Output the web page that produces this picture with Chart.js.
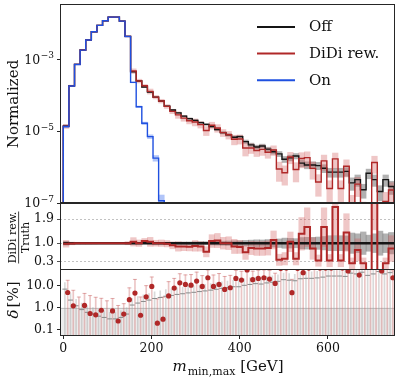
<!DOCTYPE html>
<html>
<head>
<meta charset="utf-8">
<script src="https://cdn.jsdelivr.net/npm/chart.js@4.4.1/dist/chart.umd.min.js"></script>
<style>
  html, body { margin: 0; padding: 0; background: #fff; }
  #wrap { position: relative; width: 407px; height: 382px; overflow: hidden; }
  canvas { position: absolute; left: 0; }
</style>
</head>
<body>
<div id="wrap">
  <canvas id="mainChart" width="407" height="216" style="top:0px"></canvas>
  <canvas id="ratioChart" width="407" height="67" style="top:203px"></canvas>
  <canvas id="deltaChart" width="407" height="113" style="top:269px"></canvas>
</div>
<script>
// binning of m_min,max [GeV]
const N_BINS = 59;
const RANGE_HI = 750;
const X_MIN = -7.5, X_MAX = 752;
const binEdges = Array.from({ length: N_BINS + 1 }, (_, i) => i * RANGE_HI / N_BINS);
const binCenters = binEdges.slice(0, -1).map((e, i) => (e + binEdges[i + 1]) / 2);

const xTicks = [0, 200, 400, 600];
const mainTicks = [1e-7, 1e-5, 1e-3];
const ratioTicks = [0.3, 1.0, 1.9];
const deltaTicks = [0.1, 1.0, 10.0];
const seriesLabels = ['Off', 'DiDi rew.', 'On'];

// normalized distributions
const onValues = [1.35e-5, 1.82e-4, 7.24e-4, 1.82e-3, 3.47e-3, 5.89e-3, 8.91e-3, 1.2e-2, 1.51e-2,
  1.51e-2, 1.17e-2, 4.37e-3, 2.29e-4, 4.79e-5, 1.66e-5, 7.08e-6, 1.78e-6, 1.15e-7];
const onErrPct = [6, 1.8, 0.9, 0.6, 0.4, 0.35, 0.3, 0.25, 0.25, 0.25, 0.3, 0.5, 2.5, 5, 8, 12, 18, 45];

const offValues = [1.4e-5, 1.85e-4, 7.3e-4, 1.83e-3, 3.47e-3, 5.9e-3, 8.9e-3, 1.2e-2, 1.5e-2, 1.5e-2,
  1.17e-2, 4.4e-3, 4.52e-4, 2.51e-4, 1.7e-4, 1.23e-4, 8.91e-5, 6.92e-5, 5.01e-5, 3.89e-5,
  3.24e-5, 2.63e-5, 2.24e-5, 2.0e-5, 1.74e-5, 1.55e-5, 1.35e-5, 1.12e-5, 9.12e-6, 7.94e-6,
  6.76e-6, 7.08e-6, 5.13e-6, 4.17e-6, 3.63e-6, 3.89e-6, 3.16e-6, 2.69e-6, 2.34e-6, 1.66e-6,
  1.82e-6, 2.04e-6, 1.29e-6, 1.15e-6, 1.15e-6, 1.1e-6, 9.33e-7, 7.24e-7, 7.24e-7, 7.24e-7,
  7.59e-7, 3.63e-7, 4.47e-7, 2.34e-7, 6.76e-7, 4.47e-7, 2.09e-7, 4.47e-7, 2.88e-7];
const offErrPct = [7, 2.2, 1.2, 0.8, 0.6, 0.5, 0.4, 0.35, 0.3, 0.3,
  0.35, 0.5, 1.3, 1.6, 1.9, 2.2, 2.6, 2.9, 3.3, 3.6,
  4, 4.3, 4.7, 5, 5.4, 5.8, 6.3, 6.9, 7.6, 8.2,
  9, 9, 10.5, 11.5, 12.5, 12, 13.5, 14.5, 16, 19,
  18, 17, 21, 22, 22, 23, 25, 28, 28, 28,
  27, 38, 35, 42, 30, 35, 45, 35, 40];

const didiValues = [1.37e-5, 1.83e-4, 7.3e-4, 1.83e-3, 3.47e-3, 5.9e-3, 8.9e-3, 1.2e-2, 1.5e-2, 1.5e-2,
  1.17e-2, 4.4e-3, 4.75e-4, 2.51e-4, 1.84e-4, 1.29e-4, 8.91e-5, 6.92e-5, 4.91e-5, 3.58e-5,
  2.85e-5, 2.31e-5, 1.95e-5, 1.8e-5, 1.53e-5, 1.05e-5, 1.46e-5, 1.23e-5, 9.12e-6, 7.94e-6,
  5.95e-6, 6.09e-6, 3.39e-6, 3.42e-6, 2.9e-6, 3.11e-6, 2.59e-6, 3.01e-6, 8.89e-7, 6.97e-7,
  1.91e-6, 8.57e-7, 1.74e-6, 1.84e-6, 9.2e-7, 3.85e-7, 1.49e-6, 2.53e-7, 1.7e-6, 2.53e-7,
  1.06e-6, 9.1e-8, 3.35e-7, 5.9e-8, 0, 1.34e-6, 0, 1.1e-7, 2.3e-7];
const didiErrPct = [13, 5, 3.5, 3.2, 3, 2.5, 1.9, 1.9, 1.9, 1.0,
  1.0, 5.7, 15, 12, 9, 16, 11, 12, 12, 14,
  20, 18, 18, 22, 20, 28, 22, 24, 22, 24,
  30, 28, 40, 30, 32, 32, 32, 30, 55, 55,
  35, 55, 45, 45, 50, 60, 45, 65, 45, 65,
  50, 80, 55, 80, 100, 50, 100, 80, 60];

// DiDi rew. / Truth
const ratioValues = [0.98, 0.99, 1, 1, 1, 1, 1, 1, 1, 1,
  1, 1, 1.05, 1.0, 1.08, 1.05, 1.0, 1.0, 0.98, 0.92,
  0.88, 0.88, 0.87, 0.9, 0.88, 0.68, 1.08, 1.1, 1.0, 1.0,
  0.88, 0.86, 0.66, 0.82, 0.8, 0.8, 0.82, 1.12, 0.38, 0.42,
  1.05, 0.42, 1.35, 1.6, 0.8, 0.35, 1.6, 0.35, 2.35, 0.35,
  1.4, 0.25, 0.75, 0.25, 0, 3.0, 0, 0.25, 0.8];

// delta [%]
const deltaValues = [4.9, 1.2, 0.03, 1.25, 0.53, 0.46, 0.75, 0.03, 0.7, 0.24,
  0.5, 2.3, 4.6, 0.44, 3.1, 9.3, 0.19, 0.29, 3.4, 7.8,
  13.7, 11.5, 10.7, 16.4, 9.3, 23.4, 9.3, 11.5, 6.8, 8.1,
  21.8, 18.3, 53, 19, 21.8, 23.4, 20.3, 12.8, 62, 65,
  4.8, 62, 40, 65, 70, 65, 65, 65, 135, 65,
  48, 75, 31, 75, 100, 200, 48, 75, 23.4];
const deltaErr = [13, 5, 3, 3.2, 3, 2.5, 1.9, 2, 1.9, 1.0,
  1.0, 5.7, 15, 2.6, 7, 16, 2.3, 2.7, 12, 14,
  22, 20, 22, 26, 20, 30, 22, 25, 20, 22,
  30, 28, 60, 28, 30, 30, 30, 25, 62, 65,
  15, 62, 40, 65, 70, 65, 65, 65, 135, 65,
  50, 75, 40, 75, 100, 200, 50, 75, 25];

const COLORS = {
  off: '#151515', didi: '#b02828', on: '#1f50e0',
  offBand: 'rgba(70,70,70,0.42)', didiBand: 'rgba(205,85,85,0.33)', onBand: 'rgba(60,110,240,0.4)',
  frame: '#262626'
};
const FONT = '"DejaVu Serif", "Liberation Serif", serif';
const FLOOR = 1e-12;
const BIN_W = RANGE_HI / N_BINS;

Chart.defaults.font.family = FONT;
Chart.defaults.font.size = 12.5;
Chart.defaults.color = '#111';

const pos = (v) => (v > 0 ? v : FLOOR);

function stepData(values, isLog) {
  const f = isLog ? pos : (v) => v;
  const pts = [];
  if (isLog) pts.push({ x: binEdges[0], y: FLOOR });
  values.forEach((v, i) => pts.push({ x: binEdges[i], y: f(v) }));
  pts.push({ x: binEdges[values.length], y: f(values[values.length - 1]) });
  if (isLog) pts.push({ x: binEdges[values.length], y: FLOOR });
  return pts;
}

function bandData(values, errPct, isLog) {
  return values.map((v, i) => {
    const lo = v * (1 - errPct[i] / 100);
    const hi = v * (1 + errPct[i] / 100);
    return { x: binCenters[i], y: isLog ? [pos(lo), pos(hi)] : [Math.max(lo, 0), hi] };
  });
}

const bandStyle = { type: 'bar', grouped: false, barPercentage: 1, categoryPercentage: 1, borderWidth: 0 };
const stepStyle = { type: 'line', stepped: true, pointRadius: 0, fill: false };

function xScale(display) {
  return {
    type: 'linear', min: X_MIN, max: X_MAX, display, offset: false,
    afterBuildTicks: (sc) => { sc.ticks = xTicks.map((v) => ({ value: v })); },
    afterFit: (sc) => {
      if (display) sc.height = 46;
      sc.paddingLeft = 0;
      sc.paddingRight = 0;
    },
    grid: { drawOnChartArea: false, tickLength: 3, color: COLORS.frame, offset: false },
    border: { display: false },
    ticks: { padding: 2, maxRotation: 0, color: '#111' }
  };
}

function yScale(type, min, max, ticks, extra) {
  return Object.assign({
    type, min, max,
    afterBuildTicks: (s) => { s.ticks = ticks.map((v) => ({ value: v })); },
    afterFit: (s) => {
      s.width = 60;
      s.paddingTop = 0;
      s.paddingBottom = 0;
    },
    grid: { drawOnChartArea: false, tickLength: 3, color: COLORS.frame },
    border: { display: false },
    ticks: { padding: 3, color: '#111', callback: (v) => Number(v).toFixed(1) }
  }, extra || {});
}

const framePlugin = {
  id: 'frame',
  afterDatasetsDraw(chart) {
    const { ctx, chartArea: a } = chart;
    ctx.save();
    ctx.strokeStyle = COLORS.frame;
    ctx.lineWidth = 1;
    ctx.strokeRect(a.left + 0.5, a.top + 0.5, a.right - a.left - 1, a.bottom - a.top - 1);
    ctx.restore();
  }
};

const baseOptions = {
  responsive: false,
  animation: false,
  events: [],
  plugins: { legend: { display: false }, tooltip: { enabled: false } }
};

// ---------- main panel ----------
const mainLabels = {
  id: 'mainLabels',
  afterDraw(chart) {
    const { ctx } = chart;
    const y = chart.scales.y;
    ctx.save();
    ctx.fillStyle = '#111';
    ctx.textAlign = 'right';
    mainTicks.forEach((v) => {
      const py = y.getPixelForValue(v);
      const exp = '\u2212' + Math.abs(Math.round(Math.log10(v)));
      ctx.font = '9px ' + FONT;
      ctx.textBaseline = 'alphabetic';
      const w = ctx.measureText(exp).width;
      ctx.fillText(exp, 54, py - 1);
      ctx.font = '12.5px ' + FONT;
      ctx.textBaseline = 'middle';
      ctx.fillText('10', 54 - w - 0.5, py + 1);
    });
    // y title
    ctx.save();
    ctx.translate(18, 104);
    ctx.rotate(-Math.PI / 2);
    ctx.textAlign = 'center';
    ctx.textBaseline = 'alphabetic';
    ctx.font = '15px ' + FONT;
    ctx.fillText('Normalized', 0, 0);
    ctx.restore();
    // legend
    const legendColors = [COLORS.off, COLORS.didi, COLORS.on];
    seriesLabels.forEach((label, i) => {
      const ly = 27 + i * 26.6;
      ctx.strokeStyle = legendColors[i];
      ctx.lineWidth = 2;
      ctx.beginPath();
      ctx.moveTo(257, ly);
      ctx.lineTo(295, ly);
      ctx.stroke();
      ctx.textAlign = 'left';
      ctx.textBaseline = 'middle';
      ctx.font = '15px ' + FONT;
      ctx.fillText(label, 309, ly + 0.5);
    });
    ctx.restore();
  }
};

new Chart(document.getElementById('mainChart'), {
  type: 'line',
  data: {
    datasets: [
      Object.assign({ data: bandData(offValues, offErrPct, true), backgroundColor: COLORS.offBand, order: 6 }, bandStyle),
      Object.assign({ data: bandData(didiValues, didiErrPct, true), backgroundColor: COLORS.didiBand, order: 5 }, bandStyle),
      Object.assign({ data: bandData(onValues, onErrPct, true), backgroundColor: COLORS.onBand, order: 4 }, bandStyle),
      Object.assign({ label: seriesLabels[0], data: stepData(offValues, true), borderColor: COLORS.off, borderWidth: 1.4, order: 3 }, stepStyle),
      Object.assign({ label: seriesLabels[1], data: stepData(didiValues, true), borderColor: COLORS.didi, borderWidth: 1.4, order: 2 }, stepStyle),
      Object.assign({ label: seriesLabels[2], data: stepData(onValues, true), borderColor: COLORS.on, borderWidth: 1.4, order: 1 }, stepStyle)
    ]
  },
  options: Object.assign({}, baseOptions, {
    layout: { autoPadding: false, padding: { top: 4, bottom: 13, left: 0, right: 12 } },
    scales: {
      x: xScale(false),
      y: yScale('logarithmic', 1e-7, 0.035, mainTicks, { ticks: { callback: () => '' } })
    }
  }),
  plugins: [framePlugin, mainLabels]
});

// ---------- ratio panel ----------
const ratioLabel = {
  id: 'ratioLabel',
  afterDraw(chart) {
    const { ctx } = chart;
    const cy = 237.5 - 203;
    ctx.save();
    ctx.translate(0, cy);
    ctx.rotate(-Math.PI / 2);
    ctx.fillStyle = '#111';
    ctx.strokeStyle = '#111';
    ctx.textAlign = 'center';
    ctx.textBaseline = 'alphabetic';
    ctx.font = '11px ' + FONT;
    ctx.fillText('DiDi rew.', 0, 16.3);
    ctx.fillText('Truth', 0, 28.8);
    ctx.lineWidth = 0.8;
    ctx.beginPath();
    ctx.moveTo(-26, 18.6);
    ctx.lineTo(26, 18.6);
    ctx.stroke();
    ctx.restore();
  }
};

new Chart(document.getElementById('ratioChart'), {
  type: 'line',
  data: {
    datasets: [
      Object.assign({ data: bandData(offValues.map(() => 1), offErrPct, false), backgroundColor: COLORS.offBand, order: 5 }, bandStyle),
      Object.assign({ data: bandData(ratioValues, didiErrPct, false), backgroundColor: COLORS.didiBand, order: 4 }, bandStyle),
      Object.assign({ data: stepData(offValues.map(() => 1), false), borderColor: COLORS.off, borderWidth: 2.6, order: 2 }, stepStyle),
      Object.assign({ data: stepData(ratioValues, false), borderColor: COLORS.didi, borderWidth: 2, order: 1 }, stepStyle)
    ]
  },
  options: Object.assign({}, baseOptions, {
    layout: { autoPadding: false, padding: { top: 0, bottom: 0, left: 0, right: 12 } },
    scales: {
      x: xScale(false),
      y: yScale('linear', 0, 2.5, ratioTicks, {
        grid: { drawOnChartArea: true, tickLength: 3, color: 'rgba(0,0,0,0.3)', tickColor: COLORS.frame, lineWidth: 0.8 },
        border: { display: false, dash: [2, 2] }
      })
    }
  }),
  plugins: [framePlugin, ratioLabel]
});

// ---------- delta panel ----------
const RED_SHIFT = 0.28 * BIN_W;
const GRAY_SHIFT = -0.22 * BIN_W;

const deltaDecor = {
  id: 'deltaDecor',
  beforeDatasetsDraw(chart) {
    const { ctx, chartArea: a } = chart;
    const y1 = chart.scales.y.getPixelForValue(1.0);
    ctx.save();
    ctx.fillStyle = '#ececec';
    ctx.fillRect(a.left, y1, a.right - a.left, a.bottom - y1);
    ctx.strokeStyle = '#c2c2c2';
    ctx.lineWidth = 1;
    ctx.beginPath();
    ctx.moveTo(a.left, Math.round(y1) + 0.5);
    ctx.lineTo(a.right, Math.round(y1) + 0.5);
    ctx.stroke();
    ctx.restore();
  },
  afterDraw(chart) {
    const { ctx } = chart;
    ctx.save();
    ctx.fillStyle = '#111';
    // y title: delta [%]
    ctx.translate(18, 300 - 269);
    ctx.rotate(-Math.PI / 2);
    ctx.textBaseline = 'alphabetic';
    ctx.font = 'italic 15px ' + FONT;
    const wd = ctx.measureText('\u03b4').width;
    ctx.font = '15px ' + FONT;
    const wp = ctx.measureText('[%]').width;
    const x0 = -(wd + 2 + wp) / 2;
    ctx.textAlign = 'left';
    ctx.font = 'italic 15px ' + FONT;
    ctx.fillText('\u03b4', x0, 0);
    ctx.font = '15px ' + FONT;
    ctx.fillText('[%]', x0 + wd + 2, 0);
    ctx.restore();
    // x title: m_min,max [GeV]
    ctx.save();
    ctx.fillStyle = '#111';
    ctx.textAlign = 'left';
    ctx.textBaseline = 'alphabetic';
    ctx.font = 'italic 15px ' + FONT;
    const wm = ctx.measureText('m').width;
    ctx.font = '11px ' + FONT;
    const ws = ctx.measureText('min,max').width;
    ctx.font = '15px ' + FONT;
    const wg = ctx.measureText(' [GeV]').width;
    let sx = 228 - (wm + 1 + ws + wg) / 2;
    const base = 371 - 269;
    ctx.font = 'italic 15px ' + FONT;
    ctx.fillText('m', sx, base);
    sx += wm + 1;
    ctx.font = '11px ' + FONT;
    ctx.fillText('min,max', sx, base + 3.5);
    sx += ws;
    ctx.font = '15px ' + FONT;
    ctx.fillText(' [GeV]', sx, base);
    ctx.restore();
  }
};

const errBar = (values, errs, shift) => values.map((v, i) => ({
  x: binCenters[i] + shift,
  y: [pos(v - errs[i]), v + errs[i]]
}));

new Chart(document.getElementById('deltaChart'), {
  type: 'line',
  data: {
    datasets: [
      { type: 'bar', grouped: false, barThickness: 1, borderWidth: 0, backgroundColor: 'rgba(160,160,160,0.4)',
        data: errBar(offErrPct, offErrPct, GRAY_SHIFT), order: 6 },
      { type: 'bar', grouped: false, barThickness: 1, borderWidth: 0, backgroundColor: 'rgba(205,110,110,0.4)',
        data: errBar(deltaValues, deltaErr, RED_SHIFT), order: 5 },
      { type: 'line', showLine: false, pointStyle: 'line', pointRadius: 2, borderWidth: 1,
        pointBorderColor: 'rgba(205,110,110,0.55)', clip: 0,
        data: deltaValues.map((v, i) => ({ x: binCenters[i] + RED_SHIFT, y: v + deltaErr[i] })), order: 4 },
      { type: 'line', showLine: false, pointStyle: 'line', pointRadius: 2.5, borderWidth: 1,
        pointBorderColor: '#8a8a8a', clip: 0,
        data: offErrPct.map((v, i) => ({ x: binCenters[i] + GRAY_SHIFT, y: v })), order: 3 },
      { type: 'line', showLine: false, pointStyle: 'circle', pointRadius: 2.6, borderWidth: 0,
        pointBackgroundColor: COLORS.didi, pointBorderWidth: 0, clip: 0,
        data: deltaValues.map((v, i) => ({ x: binCenters[i] + RED_SHIFT, y: v })), order: 1 }
    ]
  },
  options: Object.assign({}, baseOptions, {
    layout: { autoPadding: false, padding: { top: 0, bottom: 0, left: 0, right: 12 } },
    scales: {
      x: xScale(true),
      y: yScale('logarithmic', 0.049, 59, deltaTicks)
    }
  }),
  plugins: [framePlugin, deltaDecor]
});
</script>
</body>
</html>
